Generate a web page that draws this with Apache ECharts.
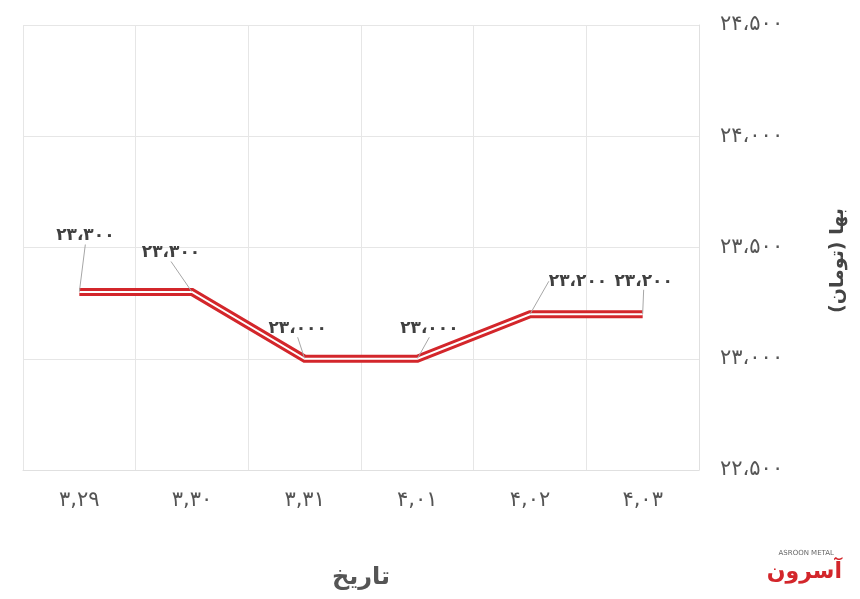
<!DOCTYPE html>
<html>
<head>
<meta charset="utf-8">
<script src="https://cdn.jsdelivr.net/npm/echarts@6/dist/echarts.min.js"></script>
<style>html,body{margin:0;padding:0;background:#fff;}#c{width:860px;height:599px;}</style>
</head>
<body>
<div id="c"></div>
<script>
var categories = ['۳,۲۹', '۳,۳۰', '۳,۳۱', '۴,۰۱', '۴,۰۲', '۴,۰۳'];
var prices = [23300, 23300, 23000, 23000, 23200, 23200];
var yMin = 22500, yMax = 24500, yStep = 500;
var xName = 'تاریخ';
var yName = 'بها (تومان)';

var FA = '۰۱۲۳۴۵۶۷۸۹';
function toFa(n) {
  return n.toLocaleString('en-US').replace(/\d/g, function (d) { return FA[+d]; }).replace(/,/g, '،');
}
var labelShift = [[6, -42], [-21, -25], [-7, -16], [12, -16], [48, -19], [1, -19]];
var font = 'DejaVu Sans';

var chart = echarts.init(document.getElementById('c'), null, { renderer: 'canvas' });
chart.setOption({
  animation: false,
  textStyle: { fontFamily: font },
  grid: { left: 23, right: 161, top: 25, bottom: 129 },
  xAxis: {
    type: 'category',
    data: categories,
    boundaryGap: true,
    name: xName,
    nameLocation: 'middle',
    nameGap: 96,
    nameTextStyle: { fontSize: 24, fontWeight: 'bold', color: '#555', fontFamily: font },
    axisLine: { show: true, lineStyle: { color: '#e0e0e0' } },
    axisTick: { show: false },
    axisLabel: { margin: 20, fontSize: 21, color: '#555', fontFamily: font },
    splitLine: { show: true, lineStyle: { color: '#e6e6e6' } }
  },
  yAxis: {
    type: 'value',
    position: 'right',
    min: yMin, max: yMax, interval: yStep,
    name: yName,
    nameLocation: 'middle',
    nameGap: 130,
    nameTextStyle: { fontSize: 19, fontWeight: 'bold', color: '#444', fontFamily: font, padding: [0, 26, 0, 0] },
    axisLine: { show: true, lineStyle: { color: '#e0e0e0' } },
    axisTick: { show: false },
    axisLabel: { margin: 21, fontSize: 21, color: '#555', fontFamily: font, formatter: function (v) { return toFa(v); } },
    splitLine: { show: true, lineStyle: { color: '#e6e6e6' } }
  },
  series: [
    {
      type: 'line',
      data: prices,
      symbol: 'none',
      lineStyle: { color: '#d3262b', width: 8, cap: 'butt', join: 'miter' },
      z: 2
    },
    {
      type: 'line',
      data: prices,
      symbol: 'circle',
      symbolSize: 1,
      itemStyle: { color: 'rgba(0,0,0,0)', borderWidth: 0 },
      lineStyle: { color: '#ffffff', width: 2, join: 'miter' },
      z: 3,
      label: {
        show: true,
        position: 'top',
        distance: 5,
        fontSize: 17,
        fontWeight: 'bold',
        color: '#404040',
        fontFamily: font,
        formatter: function (p) { return toFa(p.value); }
      },
      labelLine: { show: true, lineStyle: { color: '#a6a6a6', width: 1 } },
      labelLayout: function (p) {
        var s = labelShift[p.dataIndex];
        return { dx: s[0], dy: s[1] };
      }
    }
  ],
  graphic: [
    { type: 'text', right: 18, bottom: 16, style: { text: 'آسرون', font: 'bold 22px DejaVu Sans', fill: '#d3262b' } },
    { type: 'text', right: 26, bottom: 42, style: { text: 'ASROON METAL', font: '7px DejaVu Sans', fill: '#666' } }
  ]
});
</script>
</body>
</html>
